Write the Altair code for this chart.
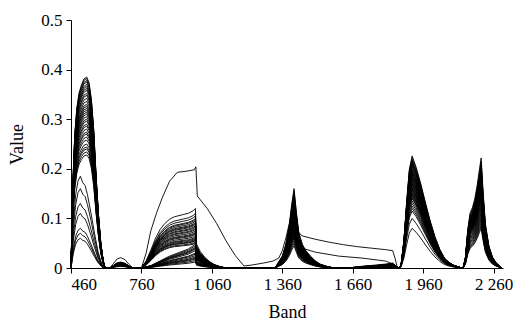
import altair as alt
import pandas as pd

# ---- data ----
# segment shapes (band, relative value)
s1a_b = [460, 468, 476, 485, 495, 505, 515, 527, 537, 547, 557, 567, 577, 587, 597, 605]
s1a_v = [0, 0.45, 0.7, 0.84, 0.92, 0.96, 0.99, 1.0, 0.97, 0.88, 0.72, 0.48, 0.28, 0.13, 0.04, 0]
s1b_b = [460, 470, 480, 490, 500, 510, 520, 530, 545, 560, 575, 590, 600]
s1b_v = [0, 0.5, 0.8, 0.95, 1.0, 0.93, 0.9, 0.8, 0.6, 0.38, 0.18, 0.05, 0]
s2_b = [625, 640, 655, 672, 690, 705, 723]
s2_v = [0, 0.4, 0.85, 1.0, 0.8, 0.4, 0]
s3a_b = [760, 780, 800, 820, 840, 860, 880, 900, 920, 940, 960, 980, 990, 995, 1010, 1030, 1050, 1070, 1090, 1110, 1140]
s3a_v = [0, 0.12, 0.3, 0.5, 0.65, 0.75, 0.82, 0.86, 0.88, 0.9, 0.92, 0.96, 1.0, 0.4, 0.28, 0.18, 0.11, 0.06, 0.03, 0.01, 0]
s3b_b = [760, 800, 840, 880, 920, 960, 990, 995, 1020, 1050, 1080, 1110]
s3b_v = [0, 0.1, 0.3, 0.5, 0.65, 0.8, 1.0, 0.45, 0.25, 0.12, 0.05, 0]
s4_b = [1330, 1345, 1360, 1375, 1390, 1400, 1410, 1420, 1430, 1445, 1460, 1480, 1500, 1520, 1550, 1580]
s4_v = [0, 0.08, 0.15, 0.3, 0.55, 0.8, 1.0, 0.7, 0.45, 0.3, 0.22, 0.15, 0.09, 0.05, 0.02, 0]
s7_b = [1640, 1700, 1760, 1800, 1830, 1845, 1855]
s7_v = [0, 0.35, 0.6, 0.8, 1.0, 0.4, 0]
s5_b = [1858, 1866, 1878, 1890, 1901, 1913, 1930, 1950, 1970, 1990, 2010, 2030, 2050, 2070, 2090, 2110, 2125]
s5_v = [0, 0.03, 0.25, 0.6, 0.88, 1.0, 0.9, 0.75, 0.58, 0.42, 0.28, 0.17, 0.09, 0.05, 0.025, 0.01, 0]
s6_b = [2130, 2140, 2150, 2160, 2170, 2180, 2190, 2200, 2207, 2215, 2225, 2240, 2255, 2270, 2285, 2295]
s6_v = [0, 0.1, 0.35, 0.5, 0.55, 0.63, 0.75, 0.9, 1.0, 0.7, 0.4, 0.2, 0.1, 0.05, 0.02, 0]

# peak values per spectrum
p1 = [0.385, 0.382, 0.378, 0.375, 0.37, 0.366, 0.362, 0.358, 0.352, 0.348, 0.342, 0.336, 0.33, 0.326,
      0.322, 0.318, 0.314, 0.31, 0.305, 0.3, 0.296, 0.29, 0.286, 0.28, 0.274, 0.27, 0.264, 0.258, 0.25,
      0.244, 0.24, 0.234, 0.228, 0.185, 0.16, 0.13, 0.11, 0.08, 0.07, 0.06]
p2 = [0.01, 0.009, 0.011, 0.008, 0.01, 0.009, 0.008, 0.012, 0.01, 0.009, 0.008, 0.01, 0.009, 0.011,
      0.008, 0.01, 0.009, 0.008, 0.01, 0.009, 0.008, 0.01, 0.007, 0.009, 0.008, 0.01, 0.009, 0.007,
      0.008, 0.009, 0.007, 0.008, 0.006, 0.006, 0.005, 0.021, 0.005, 0.004, 0.004, 0.003]
p3 = [0.12, 0.11, 0.105, 0.1, 0.098, 0.095, 0.092, 0.09, 0.088, 0.085, 0.083, 0.08, 0.078, 0.075,
      0.072, 0.07, 0.068, 0.065, 0.062, 0.06, 0.058, 0.056, 0.055, 0.052, 0.05, 0.048, 0.045, 0.042,
      0.04, 0.038, 0.035, 0.03, 0.028, 0.025, 0.022, 0.0, 0.02, 0.018, 0.015, 0.012]
p4 = [0.16, 0.155, 0.15, 0.145, 0.14, 0.135, 0.13, 0.128, 0.125, 0.122, 0.12, 0.118, 0.115, 0.112,
      0.11, 0.108, 0.105, 0.102, 0.1, 0.098, 0.095, 0.092, 0.09, 0.088, 0.085, 0.082, 0.08, 0.078,
      0.075, 0.072, 0.07, 0.068, 0.065, 0.062, 0.06, 0.0, 0.0, 0.055, 0.05, 0.045]
p7 = [0.004, 0.006, 0.003, 0.008, 0.005, 0.002, 0.007, 0.004, 0.009, 0.003, 0.006, 0.005, 0.002, 0.008,
      0.004, 0.006, 0.003, 0.007, 0.005, 0.004, 0.01, 0.003, 0.006, 0.002, 0.005, 0.007, 0.004, 0.003,
      0.006, 0.008, 0.002, 0.005, 0.004, 0.006, 0.003, 0.0, 0.0, 0.004, 0.002, 0.003]
p5 = [0.226, 0.222, 0.218, 0.215, 0.212, 0.21, 0.207, 0.204, 0.2, 0.198, 0.195, 0.192, 0.19, 0.188,
      0.185, 0.182, 0.18, 0.178, 0.175, 0.172, 0.17, 0.168, 0.165, 0.162, 0.16, 0.158, 0.155, 0.152,
      0.15, 0.148, 0.145, 0.142, 0.14, 0.135, 0.13, 0.125, 0.12, 0.1, 0.08, 0.115]
p6 = [0.222, 0.215, 0.21, 0.205, 0.2, 0.198, 0.195, 0.19, 0.188, 0.185, 0.182, 0.18, 0.178, 0.175,
      0.172, 0.17, 0.168, 0.165, 0.162, 0.16, 0.158, 0.155, 0.152, 0.15, 0.148, 0.145, 0.142, 0.14,
      0.135, 0.13, 0.125, 0.12, 0.115, 0.11, 0.105, 0.1, 0.095, 0.09, 0.085, 0.08]

# the spectrum with the high plateau near 1 000 and the long tail after 1 400
out_b = [760, 780, 800, 825, 850, 880, 913, 950, 985, 992, 998, 1040, 1080, 1120, 1160, 1197,
         1230, 1280, 1320, 1345, 1360, 1375, 1390, 1400, 1410, 1420, 1430, 1443, 1500, 1560, 1620, 1680,
         1740, 1800, 1830, 1840, 1850]
out_v = [0, 0.03, 0.075, 0.112, 0.143, 0.175, 0.193, 0.195, 0.198, 0.204, 0.145, 0.12, 0.09, 0.055,
         0.025, 0.004, 0.006, 0.01, 0.014, 0.02, 0.035, 0.06, 0.09, 0.11, 0.12, 0.09, 0.072, 0.065,
         0.058, 0.052, 0.047, 0.043, 0.04, 0.037, 0.035, 0.02, 0]
# a second spectrum with a lower long tail
tail_b = [1330, 1345, 1360, 1375, 1390, 1400, 1410, 1420, 1430, 1445, 1500, 1600, 1700, 1800, 1840, 1850]
tail_v = [0, 0.005, 0.012, 0.025, 0.045, 0.065, 0.075, 0.06, 0.048, 0.04, 0.032, 0.024, 0.02, 0.014, 0.006, 0]

OUTLIER = 35
TAIL = 36

x_ticks = [460, 760, 1060, 1360, 1660, 1960, 2260]
y_ticks = [0, 0.1, 0.2, 0.3, 0.4, 0.5]

rows = []
for i in range(len(p1)):
    pts = []
    if i >= 33:
        pts += [(b, v * p1[i]) for b, v in zip(s1b_b, s1b_v)]
    else:
        pts += [(b, v * p1[i]) for b, v in zip(s1a_b, s1a_v)]
    pts += [(b, v * p2[i]) for b, v in zip(s2_b, s2_v)]
    if i == OUTLIER:
        pts += list(zip(out_b, out_v))
    else:
        if p3[i] < 0.05:
            pts += [(b, v * p3[i]) for b, v in zip(s3b_b, s3b_v)]
        else:
            pts += [(b, v * p3[i]) for b, v in zip(s3a_b, s3a_v)]
        if i == TAIL:
            pts += list(zip(tail_b, tail_v))
        else:
            pts += [(b, v * p4[i]) for b, v in zip(s4_b, s4_v)]
            pts += [(b, v * p7[i]) for b, v in zip(s7_b, s7_v)]
    pts += [(b, v * p5[i]) for b, v in zip(s5_b, s5_v)]
    pts += [(b, v * p6[i]) for b, v in zip(s6_b, s6_v)]
    for b, v in pts:
        rows.append({"line": i, "band": b, "value": v})

df = pd.DataFrame(rows)

FONT = "Liberation Serif"

chart = alt.Chart(df).mark_line(color="black", strokeWidth=0.9).encode(
    x=alt.X("band:Q",
            scale=alt.Scale(domain=[460, 2300], nice=False, zero=False),
            axis=alt.Axis(title="Band", values=x_ticks,
                          labelExpr="replace(format(datum.value, ','), ',', ' ')",
                          tickSize=5, labelPadding=3, titlePadding=11)),
    y=alt.Y("value:Q",
            scale=alt.Scale(domain=[0, 0.5], nice=False),
            axis=alt.Axis(title="Value", values=y_ticks, format=".1~f",
                          tickSize=5, labelPadding=4, titlePadding=14)),
    detail="line:N",
).properties(
    width=432, height=248,
    autosize=alt.AutoSizeParams(type="none"),
    padding={"left": 63, "top": 12, "right": 10, "bottom": 53},
).configure(
    background="white", font=FONT
).configure_view(stroke=None).configure_axis(
    grid=False, domainColor="black", tickColor="black",
    labelFont=FONT, titleFont=FONT, labelFontSize=17, titleFontSize=18,
    labelColor="black", titleColor="black", titleFontWeight="normal",
)

chart.save("out.html", embed_options={"renderer": "svg", "actions": False})
